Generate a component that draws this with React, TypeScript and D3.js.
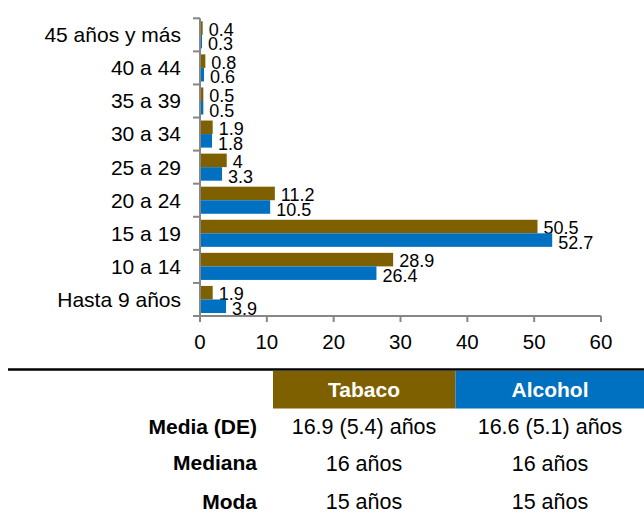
import React, { useEffect, useRef } from 'react';
import * as d3 from 'd3';

const categories = [
  '45 años y más',
  '40 a 44',
  '35 a 39',
  '30 a 34',
  '25 a 29',
  '20 a 24',
  '15 a 19',
  '10 a 14',
  'Hasta 9 años',
];
const tabaco = [0.4, 0.8, 0.5, 1.9, 4, 11.2, 50.5, 28.9, 1.9];
const alcohol = [0.3, 0.6, 0.5, 1.8, 3.3, 10.5, 52.7, 26.4, 3.9];
const xTicks = [0, 10, 20, 30, 40, 50, 60];

const seriesNames = ['Tabaco', 'Alcohol'];
const rowLabels = ['Media (DE)', 'Mediana', 'Moda'];
const tabacoStats = ['16.9 (5.4) años', '16 años', '15 años'];
const alcoholStats = ['16.6 (5.1) años', '16 años', '15 años'];

const TABACO = '#7F6000';
const ALCOHOL = '#0070C0';
const AXIS = '#868686';
const FONT = '"Liberation Sans", Arial, sans-serif';

const App: React.FC = () => {
  const ref = useRef<SVGSVGElement | null>(null);

  useEffect(() => {
    if (!ref.current) return;
    const svg = d3.select(ref.current);
    svg.selectAll('*').remove();

    const x = d3.scaleLinear().domain([0, 60]).range([200, 601]);
    const y = d3.scaleBand<string>().domain(categories).range([18.3, 316]);
    const sub = d3
      .scaleBand<string>()
      .domain(seriesNames)
      .range([3, y.bandwidth() - 3]);

    const rows = categories.map((c, i) => ({ c, t: tabaco[i], a: alcohol[i] }));

    // bars + value labels
    const g = svg.append('g');
    const series = [
      { name: 'Tabaco', color: TABACO, key: 't' as const, dy: 1.5 },
      { name: 'Alcohol', color: ALCOHOL, key: 'a' as const, dy: 2.5 },
    ];
    series.forEach((s) => {
      g.selectAll(null)
        .data(rows)
        .enter()
        .append('rect')
        .attr('x', x(0))
        .attr('y', (d) => (y(d.c) as number) + (sub(s.name) as number))
        .attr('width', (d) => x(d[s.key]) - x(0))
        .attr('height', sub.bandwidth())
        .attr('fill', s.color);

      g.selectAll(null)
        .data(rows)
        .enter()
        .append('text')
        .attr('x', (d) => x(d[s.key]) + 6)
        .attr('y', (d) => (y(d.c) as number) + (sub(s.name) as number) + sub.bandwidth() / 2 + s.dy)
        .attr('dy', '0.35em')
        .attr('font-family', FONT)
        .attr('font-size', 18)
        .attr('fill', '#000')
        .text((d) => String(d[s.key]));
    });

    // y axis
    const yAxis = svg.append('g');
    yAxis
      .append('line')
      .attr('x1', x(0))
      .attr('x2', x(0))
      .attr('y1', 18.3)
      .attr('y2', 316)
      .attr('stroke', AXIS)
      .attr('stroke-width', 2);
    const bounds = categories.map((c) => y(c) as number).concat([316]);
    yAxis
      .selectAll(null)
      .data(bounds)
      .enter()
      .append('line')
      .attr('x1', 193)
      .attr('x2', x(0))
      .attr('y1', (d) => d)
      .attr('y2', (d) => d)
      .attr('stroke', AXIS)
      .attr('stroke-width', 2);
    yAxis
      .selectAll(null)
      .data(categories)
      .enter()
      .append('text')
      .attr('x', 181)
      .attr('y', (d) => (y(d) as number) + y.bandwidth() / 2)
      .attr('dy', '0.35em')
      .attr('text-anchor', 'end')
      .attr('font-family', FONT)
      .attr('font-size', 21)
      .attr('fill', '#000')
      .text((d) => d);

    // x axis
    const xAxis = svg.append('g');
    xAxis
      .append('line')
      .attr('x1', x(0))
      .attr('x2', x(60))
      .attr('y1', 316)
      .attr('y2', 316)
      .attr('stroke', AXIS)
      .attr('stroke-width', 2);
    xAxis
      .selectAll(null)
      .data(xTicks)
      .enter()
      .append('line')
      .attr('x1', (d) => x(d))
      .attr('x2', (d) => x(d))
      .attr('y1', 316)
      .attr('y2', 322)
      .attr('stroke', AXIS)
      .attr('stroke-width', 2);
    xAxis
      .selectAll(null)
      .data(xTicks)
      .enter()
      .append('text')
      .attr('x', (d) => x(d))
      .attr('y', 342)
      .attr('dy', '0.35em')
      .attr('text-anchor', 'middle')
      .attr('font-family', FONT)
      .attr('font-size', 20.5)
      .attr('fill', '#000')
      .text((d) => String(d));

    // summary table
    const t = svg.append('g');
    t.append('line')
      .attr('x1', 8)
      .attr('x2', 644)
      .attr('y1', 369.5)
      .attr('y2', 369.5)
      .attr('stroke', '#000')
      .attr('stroke-width', 2.5);

    const colEdges = [273, 455.5, 644];
    const headColors = [TABACO, ALCOHOL];
    const centers = [364, 550];
    seriesNames.forEach((name, i) => {
      t.append('rect')
        .attr('x', colEdges[i])
        .attr('y', 371)
        .attr('width', colEdges[i + 1] - colEdges[i])
        .attr('height', 37.5)
        .attr('fill', headColors[i]);
      t.append('text')
        .attr('x', centers[i])
        .attr('y', 389.5)
        .attr('dy', '0.35em')
        .attr('text-anchor', 'middle')
        .attr('font-family', FONT)
        .attr('font-weight', 'bold')
        .attr('font-size', 21)
        .attr('fill', '#fff')
        .text(name);
    });

    const rowY = [426.7, 463, 501.7];
    rowLabels.forEach((lbl, i) => {
      t.append('text')
        .attr('x', 257)
        .attr('y', rowY[i])
        .attr('dy', '0.35em')
        .attr('text-anchor', 'end')
        .attr('font-family', FONT)
        .attr('font-weight', 'bold')
        .attr('font-size', 21)
        .attr('fill', '#000')
        .text(lbl);
      [tabacoStats[i], alcoholStats[i]].forEach((v, j) => {
        t.append('text')
          .attr('x', centers[j])
          .attr('y', rowY[i])
          .attr('dy', '0.35em')
          .attr('text-anchor', 'middle')
          .attr('font-family', FONT)
          .attr('font-size', 21.5)
          .attr('fill', '#000')
          .text(v);
      });
    });
  }, []);

  return (
    <svg
      ref={ref}
      width={644}
      height={517}
      style={{ position: 'absolute', left: 0, top: 0, background: '#fff' }}
    ></svg>
  );
};

export default App;
